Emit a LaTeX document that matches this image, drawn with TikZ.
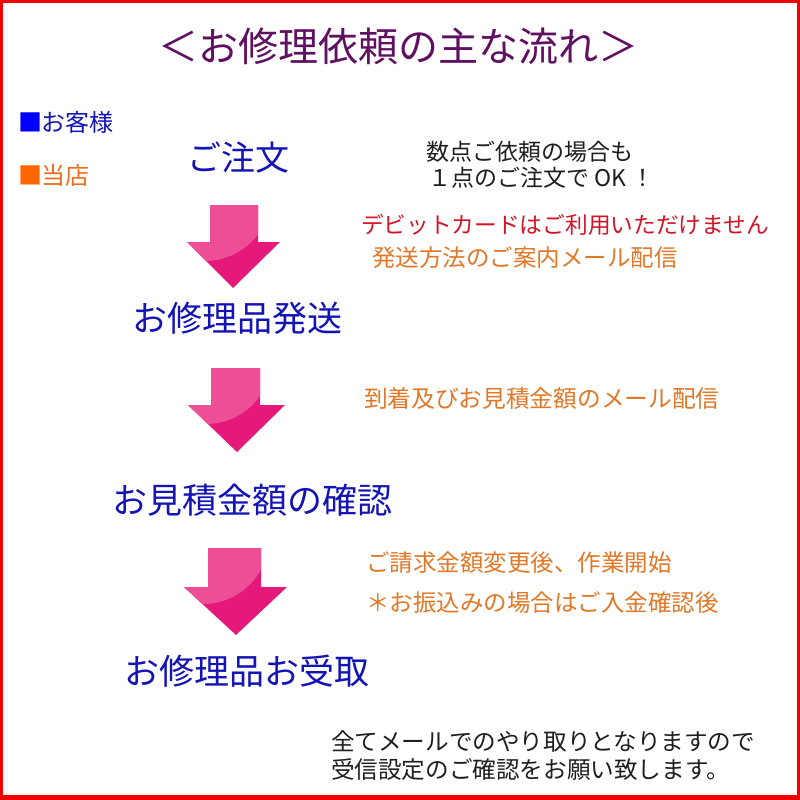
\documentclass[tikz,border=0pt]{standalone}
\usepackage{fontspec}
\setmainfont{Noto Sans CJK JP}
\definecolor{ttlpurple}{RGB}{96,16,96}
\definecolor{stepblue}{RGB}{20,20,180}
\definecolor{sqblue}{RGB}{0,0,255}
\definecolor{sqorange}{RGB}{255,102,0}
\definecolor{legorange}{RGB}{235,110,30}
\definecolor{notered}{RGB}{210,20,40}
\definecolor{noteorange}{RGB}{225,120,40}
\definecolor{notegray}{RGB}{30,30,30}
\definecolor{arrdark}{RGB}{229,25,122}
\definecolor{arrlight}{RGB}{237,78,150}
\definecolor{frame}{RGB}{240,0,0}
\newcommand\fsz[1]{\fontsize{#1}{#1}\selectfont}
\tikzset{
  txt/.style={inner sep=0pt, outer sep=0pt, anchor=base west},
  steptxt/.style={txt, text=stepblue},
  notetxt/.style={txt},
}
\newcommand\pinkarrow[8]{%
  % #1 L, #2 R, #3 top, #4 head y, #5 head left, #6 head right, #7 tip x, #8 tip y
  \fill[arrdark] (#1,#3) -- (#2,#3) -- (#2,#4) -- (#6,#4) -- (#7,#8) -- (#5,#4) -- (#1,#4) -- cycle;
  \begin{scope}
    \clip (#1,#3) -- (#2,#3) -- (#2,#4) -- (#6,#4) -- (#7,#8) -- (#5,#4) -- (#1,#4) -- cycle;
    \fill[arrlight] ({#1-5},{#3-10}) circle (66);
  \end{scope}%
}
\begin{document}
\begin{tikzpicture}[x=1pt,y=-1pt]
\useasboundingbox (0,0) rectangle (800,800);
\fill[frame] (0,0) rectangle (800,800);
\fill[white] (3,3) rectangle (797,795);

% title
\node[inner sep=0pt, anchor=base, text=ttlpurple] (title) at (398,62) {\fsz{40}＜お修理依頼の主な流れ＞};

% legend
\node[txt] (legcust) at (18,131) {\fsz{24}\textcolor{sqblue}{■}\textcolor{stepblue}{お客様}};
\node[txt] (legshop) at (18,184) {\fsz{24}\textcolor{sqorange}{■}\textcolor{legorange}{当店}};

% steps
\node[steptxt] (s1) at (187,170) {\fsz{34}ご注文};
\node[steptxt] (s2) at (132,331) {\fsz{35}お修理品発送};
\node[steptxt] (s3) at (112,513) {\fsz{35}お見積金額の確認};
\node[steptxt] (s4) at (124,684) {\fsz{35}お修理品お受取};

% arrows
\pinkarrow{210}{258}{205}{242}{187}{280}{233}{288}
\pinkarrow{211}{260}{368}{405}{188}{285}{237}{452}
\pinkarrow{208}{261}{548}{587}{184}{287}{236}{635}

% notes
\node[notetxt, text=notegray] (n1a) at (426,160) {\fsz{23}数点ご依頼の場合も};
\node[notetxt, text=notegray] (n1b) at (428,186) {\fsz{23}１点のご注文で OK ！};
\node[notetxt, text=notered] (n2) at (361,233) {\fsz{22.7}デビットカードはご利用いただけません};
\node[notetxt, text=noteorange] (n3) at (372,266) {\fsz{23.5}発送方法のご案内メール配信};
\node[notetxt, text=noteorange] (n4) at (364,407) {\fsz{23.7}到着及びお見積金額のメール配信};
\node[notetxt, text=noteorange] (n5) at (366,571) {\fsz{23.5}ご請求金額変更後、作業開始};
\node[notetxt, text=noteorange] (n6) at (366,611) {\fsz{23.5}＊お振込みの場合はご入金確認後};
\node[notetxt, text=notegray] (n7a) at (331,750) {\fsz{23.6}全てメールでのやり取りとなりますので};
\node[notetxt, text=notegray] (n7b) at (331,778) {\fsz{23.6}受信設定のご確認をお願い致します。};
\end{tikzpicture}
\end{document}
